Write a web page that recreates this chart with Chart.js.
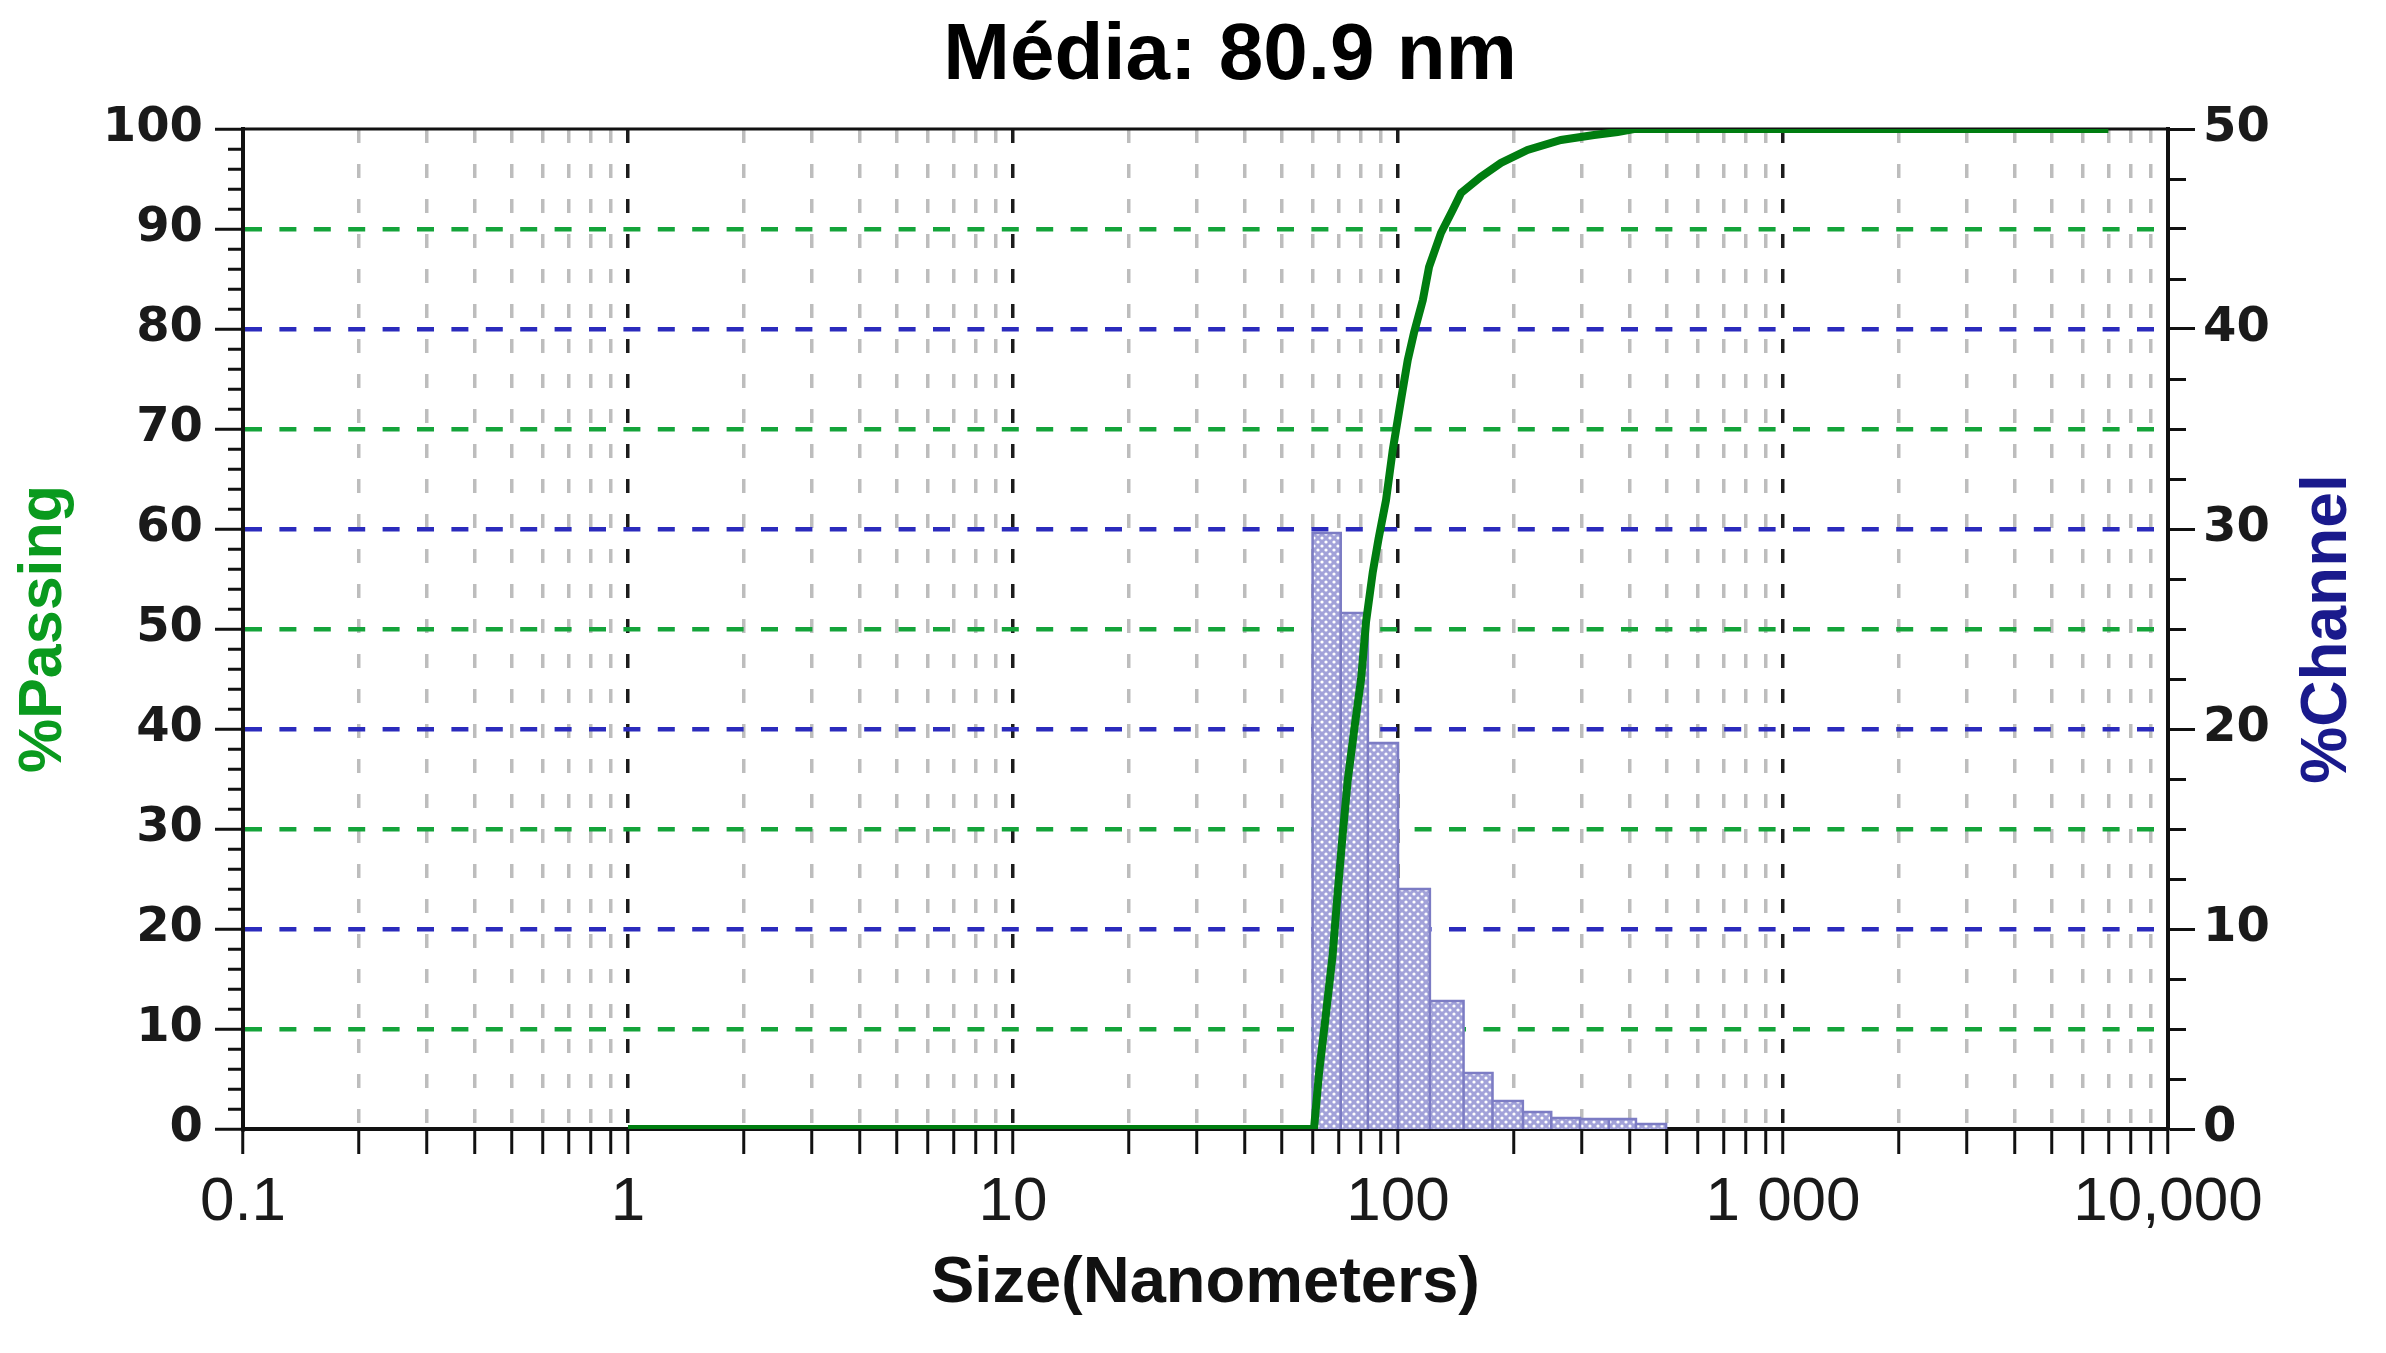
<!DOCTYPE html>
<html>
<head>
    <meta charset="utf-8"/>
    <title>Média: 80.9 nm</title>
    <script src="https://cdn.jsdelivr.net/npm/chart.js@4.4.1/dist/chart.umd.min.js"></script>
    <style>
        body { margin: 0; background: #fff; }
        .chart-container { position: relative; width: 2386px; height: 1353px; }
    </style>
</head>
<body>
    <div class="chart-container">
        <canvas id="myChart"></canvas>
    </div>
    <script>
        const chartTitle = 'Média: 80.9 nm';

        // cumulative curve, % passing vs size (nm)
        const sizes = [1, 60.5, 62.4, 64.9, 67.6, 69.7, 71.8, 74.0, 77.0, 80.2, 82.6, 86.0, 89.0, 93.1, 96.9,
                       101.8, 106, 110, 116, 120.4, 129.3, 138.7, 145.8, 164, 185, 217, 265, 323, 372, 410, 7000];
        const passing = [0, 0, 5.7, 11.3, 17.3, 23.6, 29.4, 34.8, 40.0, 45.0, 50.7, 55.7, 59.0, 62.9, 67.9,
                         72.9, 76.9, 79.6, 82.9, 86.2, 89.6, 91.9, 93.6, 95.2, 96.6, 97.9, 98.9, 99.4, 99.7, 100, 100];

        // histogram, % channel per size bin
        const binEdges = [60, 71, 83.5, 100, 121, 148, 176, 211, 250, 297, 353, 415, 497];
        const channel = [29.8, 25.8, 19.3, 12.0, 6.4, 2.8, 1.4, 0.85, 0.55, 0.5, 0.5, 0.25];

        // axes
        const decadeTicks = [0.1, 1, 10, 100, 1000, 10000];
        const decadeLabels = ['0.1', '1', '10', '100', '1 000', '10,000'];
        const passingTicks = [0, 10, 20, 30, 40, 50, 60, 70, 80, 90, 100];
        const channelTicks = [0, 10, 20, 30, 40, 50];

        const GREEN = '#14a43a';
        const BLUE = '#2b2bbd';
        const NONE = 'rgba(0,0,0,0)';

        // log ticks 1..9 in every decade
        const xTickValues = [];
        for (let i = 0; i < decadeTicks.length - 1; i++) {
            for (let m = 1; m <= 9; m++) xTickValues.push(m * decadeTicks[i]);
        }
        xTickValues.push(decadeTicks[decadeTicks.length - 1]);

        // outline of the bars: up, across, down for each bin
        const histPoints = [{x: binEdges[0], y: 0}];
        channel.forEach((h, i) => {
            histPoints.push({x: binEdges[i], y: h}, {x: binEdges[i + 1], y: h}, {x: binEdges[i + 1], y: 0});
        });

        function makePattern() {
            const c = document.createElement('canvas');
            c.width = 8; c.height = 8;
            const g = c.getContext('2d');
            g.fillStyle = '#a2a2d9';
            g.fillRect(0, 0, 8, 8);
            g.fillStyle = '#ffffff';
            [[2, 2], [6, 6]].forEach(([px, py]) => {
                g.beginPath();
                g.arc(px, py, 1.6, 0, Math.PI * 2);
                g.fill();
            });
            return g.createPattern(c, 'repeat');
        }

        const frameAndTitles = {
            id: 'frameAndTitles',
            beforeDatasetsDraw(chart) {
                const {ctx, chartArea: a} = chart;
                ctx.save();
                ctx.strokeStyle = '#111';
                ctx.lineWidth = 3;
                ctx.beginPath();
                ctx.moveTo(a.left, a.top);
                ctx.lineTo(a.right, a.top);
                ctx.stroke();
                ctx.restore();
            },
            afterDraw(chart) {
                const {ctx, chartArea: a} = chart;
                ctx.save();
                ctx.fillStyle = '#000';
                ctx.font = 'bold 80px "Liberation Sans", Arial, sans-serif';
                ctx.textAlign = 'center';
                ctx.textBaseline = 'middle';
                ctx.fillText(chartTitle, 1230, 57);
                // right axis title reads bottom to top like the left one
                ctx.translate(2328, (a.top + a.bottom) / 2);
                ctx.rotate(-Math.PI / 2);
                ctx.fillStyle = '#1a1a8c';
                ctx.font = 'bold 64px "Liberation Sans", Arial, sans-serif';
                ctx.fillText('%Channel', 0, 0);
                ctx.restore();
            }
        };

        const tickFont = {family: 'DejaVu Sans', size: 48, weight: 'bold'};

        const ctx = document.getElementById('myChart').getContext('2d');
        let myChart = new Chart(ctx, {
            type: 'line',
            data: {
                datasets: [{
                    label: '%Passing',
                    data: sizes.map((s, i) => ({x: s, y: passing[i]})),
                    yAxisID: 'y',
                    borderColor: '#007d10',
                    borderWidth: 8,
                    pointRadius: 0,
                    fill: false,
                    tension: 0,
                    order: 0,
                }, {
                    label: '%Channel',
                    data: histPoints,
                    yAxisID: 'y1',
                    borderColor: '#7c7cc4',
                    borderWidth: 2.5,
                    backgroundColor: makePattern(),
                    fill: 'origin',
                    pointRadius: 0,
                    tension: 0,
                    order: 1,
                }]
            },
            options: {
                responsive: true,
                maintainAspectRatio: false,
                animation: false,
                layout: { padding: { top: 129, left: 0, right: 0, bottom: 0 } },
                plugins: {
                    legend: { display: false },
                    tooltip: { enabled: false },
                    title: { display: false },
                },
                scales: {
                    x: {
                        type: 'logarithmic',
                        min: 0.1,
                        max: 10000,
                        afterBuildTicks: (scale) => { scale.ticks = xTickValues.map(v => ({value: v})); },
                        afterFit: (scale) => { scale.height = 224; },
                        ticks: {
                            autoSkip: false,
                            maxRotation: 0,
                            minRotation: 0,
                            padding: 12,
                            color: '#1a1a1a',
                            font: {family: 'Liberation Sans', size: 62},
                            callback: (value) => {
                                const i = decadeTicks.indexOf(value);
                                return i >= 0 ? decadeLabels[i] : '';
                            }
                        },
                        grid: {
                            color: (c) => {
                                const v = c.tick ? c.tick.value : 0;
                                if (v === decadeTicks[0] || v === decadeTicks[decadeTicks.length - 1]) return NONE;
                                return decadeTicks.includes(v) ? '#1c1c1c' : '#bdbdbd';
                            },
                            lineWidth: 3.5,
                            tickColor: '#111',
                            tickWidth: 3,
                            tickLength: 25,
                        },
                        border: { color: '#111', width: 4, dash: (c) => c.tick ? [14, 21] : [] },
                        title: {
                            display: true,
                            text: 'Size(Nanometers)',
                            color: '#111',
                            font: {family: 'Liberation Sans', size: 65, weight: 'bold'},
                            padding: {top: 0, bottom: 30},
                        }
                    },
                    y: {
                        position: 'left',
                        min: 0,
                        max: 100,
                        afterFit: (scale) => { scale.width = 243; },
                        ticks: {
                            stepSize: 2,
                            autoSkip: false,
                            padding: 12,
                            color: '#1a1a1a',
                            font: tickFont,
                            callback: (v) => passingTicks.includes(v) ? String(v) : ''
                        },
                        grid: {
                            color: (c) => {
                                const v = c.tick ? c.tick.value : 0;
                                if (v === 0 || v === 100 || v % 10) return NONE;
                                return v % 20 === 0 ? BLUE : GREEN;
                            },
                            lineWidth: 4.5,
                            tickColor: '#111',
                            tickWidth: 3,
                            tickLength: 28,
                            tickBorderDash: (c) => (c.tick && c.tick.value % 10) ? [0, 13, 15, 100] : [],
                        },
                        border: { color: '#111', width: 4, dash: (c) => c.tick ? [17, 17.4] : [] },
                        title: {
                            display: true,
                            text: '%Passing',
                            color: '#0a9a1e',
                            font: {family: 'Liberation Sans', size: 61, weight: 'bold'},
                            padding: {top: 8, bottom: 0},
                        }
                    },
                    y1: {
                        position: 'right',
                        min: 0,
                        max: 50,
                        afterFit: (scale) => { scale.width = 218; },
                        ticks: {
                            stepSize: 2.5,
                            autoSkip: false,
                            padding: 8,
                            color: '#1a1a1a',
                            font: tickFont,
                            callback: (v) => channelTicks.includes(v) ? String(v) : ''
                        },
                        grid: {
                            drawOnChartArea: false,
                            tickColor: '#111',
                            tickWidth: 3,
                            tickLength: 27,
                            tickBorderDash: (c) => (c.tick && c.tick.value % 10) ? [16, 100] : [],
                        },
                        border: { color: '#111', width: 4 },
                        title: { display: false }
                    }
                }
            },
            plugins: [frameAndTitles]
        });
    </script>
</body>
</html>
